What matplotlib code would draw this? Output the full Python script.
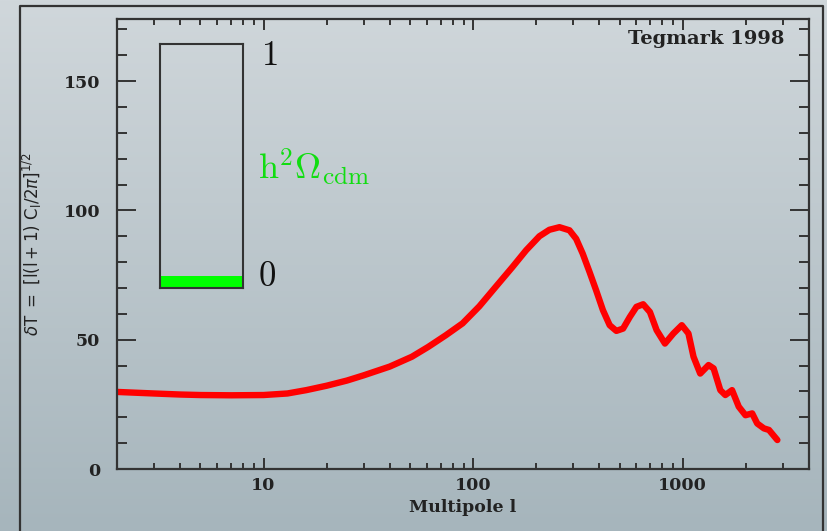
import numpy as np
import matplotlib
matplotlib.use("Agg")
from matplotlib import pyplot as plt
from matplotlib.lines import Line2D

# CMB power spectrum, dT in muK against multipole l
ell = [2, 3, 4, 5, 7, 10, 13, 16, 20, 25, 30, 40, 51, 61, 74, 89, 107, 128,
       154, 179, 207, 231, 258, 288, 310, 333, 359, 386, 416, 448, 482, 519,
       559, 601, 647, 697, 750, 822, 902, 989, 1064, 1125, 1211, 1327, 1403,
       1510, 1596, 1718, 1849, 1991, 2143, 2265, 2438, 2577, 2826]
dT = [29.8, 29.2, 28.8, 28.6, 28.5, 28.6, 29.2, 30.5, 32.2, 34.2, 36.2,
      39.6, 43.4, 47.2, 51.7, 56.3, 62.9, 70.4, 78.1, 84.6, 90.0, 92.5,
      93.5, 92.3, 89.0, 83.3, 76.2, 69.1, 61.4, 55.6, 53.4, 54.3, 58.8,
      62.7, 63.7, 60.7, 53.7, 48.5, 52.4, 55.6, 52.4, 43.4, 36.9, 40.2,
      38.9, 30.5, 28.6, 30.5, 24.1, 20.8, 21.5, 17.6, 15.7, 15.1, 11.2]

xticks = [10, 100, 1000]
xticklabels = ["10", "100", "1000"]
yticks = [0, 50, 100, 150]
h2_omega_cdm = 0.05

W, H = 827, 531
fig = plt.figure(figsize=(W / 100, H / 100), dpi=100)

# soft grey-blue gradient behind everything
bg = fig.add_axes([0, 0, 1, 1], zorder=-10)
top = np.array([208, 215, 219]) / 255
bot = np.array([166, 181, 188]) / 255
t = np.linspace(0, 1, 256)[:, None, None]
grad = top * (1 - t) + bot * t
bg.imshow(np.repeat(grad, 4, axis=1), aspect="auto", extent=[0, 1, 0, 1])
bg.set_axis_off()

# outer frame (open at the bottom)
fx = [20 / W, 20 / W, 823 / W, 823 / W]
fy = [0, 1 - 6 / H, 1 - 6 / H, 0]
fig.add_artist(Line2D(fx, fy, color="#333333", lw=1.6, transform=fig.transFigure))

ax = fig.add_axes([117 / W, 1 - 469 / H, (809 - 117) / W, (469 - 19) / H])
ax.set_facecolor("none")
ax.plot(ell, dT, color="#ff0000", lw=4.6, solid_capstyle="round",
        solid_joinstyle="round")
ax.set_xscale("log")
ax.set_xlim(2, 4000)
ax.set_ylim(0, 174)
ax.set_xticks(xticks)
ax.set_xticklabels(xticklabels)
ax.set_yticks(yticks)
ax.set_yticks(np.arange(0, 175, 10), minor=True)

lab_font = dict(family="DejaVu Serif", weight="bold", size=12.5)
for lab in ax.get_xticklabels() + ax.get_yticklabels():
    lab.set_fontfamily("DejaVu Serif")
    lab.set_fontweight("bold")
    lab.set_fontsize(12.5)
    lab.set_color("#222222")

ax.tick_params(axis="both", which="both", direction="in", top=True, right=True,
               color="#333333", width=1.4)
ax.tick_params(axis="y", which="major", length=14, pad=12)
ax.tick_params(axis="y", which="minor", length=7)
ax.tick_params(axis="x", which="major", length=8, pad=6)
ax.tick_params(axis="x", which="minor", length=4)
for sp in ax.spines.values():
    sp.set_color("#333333")
    sp.set_linewidth(1.6)

ax.set_xlabel("Multipole l", fontdict=lab_font, color="#222222", labelpad=3)
ax.set_ylabel(r"$\delta\mathrm{T}\ =\ \left[\mathrm{l(l+1)}\ \mathrm{C_l}/2\pi\right]^{1/2}$",
              fontsize=12, color="#222222", labelpad=14)
ax.text(0.965, 0.955, "Tegmark 1998", transform=ax.transAxes, ha="right",
        va="center", family="DejaVu Serif", weight="bold", size=14,
        color="#222222")

# vertical gauge for the dark matter density
ins = fig.add_axes([160 / W, 1 - 288 / H, 83 / W, 244 / H])
ins.set_facecolor("none")
ins.bar(0.5, h2_omega_cdm, width=1.0, color="#00ff00", align="center")
ins.set_xlim(0, 1)
ins.set_ylim(0, 1)
ins.set_xticks([])
ins.set_yticks([])
for sp in ins.spines.values():
    sp.set_color("#333333")
    sp.set_linewidth(1.5)

ins.text(1.22, 0.955, r"$1$", transform=ins.transAxes, fontsize=25,
         math_fontfamily="cm", va="center", ha="left", color="#111111")
ins.text(1.18, 0.05, r"$0$", transform=ins.transAxes, fontsize=25,
         math_fontfamily="cm", va="center", ha="left", color="#111111")
ins.text(1.18, 0.445, r"$\mathrm{h}^2\Omega_{\rm cdm}$", transform=ins.transAxes,
         fontsize=26, math_fontfamily="cm", va="baseline", ha="left",
         color="#11dd11")

fig.savefig("out.png", dpi=100)
